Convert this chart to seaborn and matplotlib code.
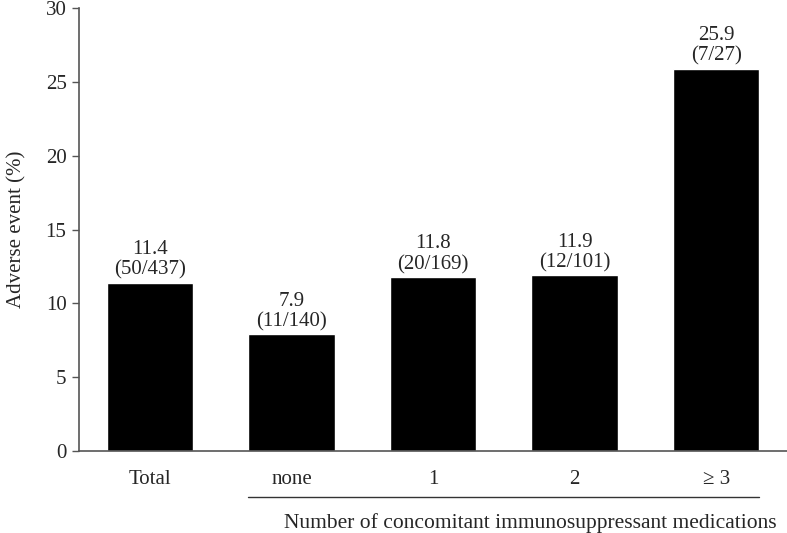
import matplotlib
matplotlib.use("Agg")
import matplotlib.pyplot as plt
import matplotlib.transforms as mtransforms
import seaborn as sns

categories = ["Total", "none", "1", "2", "\u2265 3"]
rates = [11.4, 7.9, 11.8, 11.9, 25.9]
counts = ["50/437", "11/140", "20/169", "12/101", "7/27"]

sns.set_style("white")
plt.rcParams["font.family"] = ["Liberation Serif", "DejaVu Serif"]

fig = plt.figure(figsize=(7.87, 5.33), dpi=100)
ax = fig.add_axes([0.1004, 0.1538, 0.8996, 0.8312])

sns.barplot(x=categories, y=rates, color="black", saturation=1, width=0.61, ax=ax)

labels = [f"{r}\n({c})" for r, c in zip(rates, counts)]
ax.bar_label(ax.containers[0], labels=labels, padding=2, fontsize=15, linespacing=1.1)

ax.set_xlim(-0.5, 4.5)
ax.set_ylim(0, 30)
ax.set_yticks(range(0, 31, 5))
ax.set_ylabel("Adverse event (%)", fontsize=15, labelpad=14)
ax.tick_params(axis="y", direction="out", length=5, width=1, color="#555555", labelsize=15, pad=4, left=True)
ax.tick_params(axis="x", length=0, labelsize=15, pad=14)

for side in ["top", "right"]:
    ax.spines[side].set_visible(False)
for side in ["left", "bottom"]:
    ax.spines[side].set_color("#555555")
    ax.spines[side].set_linewidth(1.2)

# bracket line under the medication groups
trans = mtransforms.blended_transform_factory(ax.transData, ax.transAxes)
ax.plot([1 - 0.305, 4 + 0.305], [-0.104, -0.104], color="#333333", lw=1, transform=trans, clip_on=False)
ax.text(2.69, -0.163, "Number of concomitant immunosuppressant medications",
        transform=trans, ha="center", va="center", fontsize=15.5)

plt.savefig("out.png", dpi=100)
plt.close()
